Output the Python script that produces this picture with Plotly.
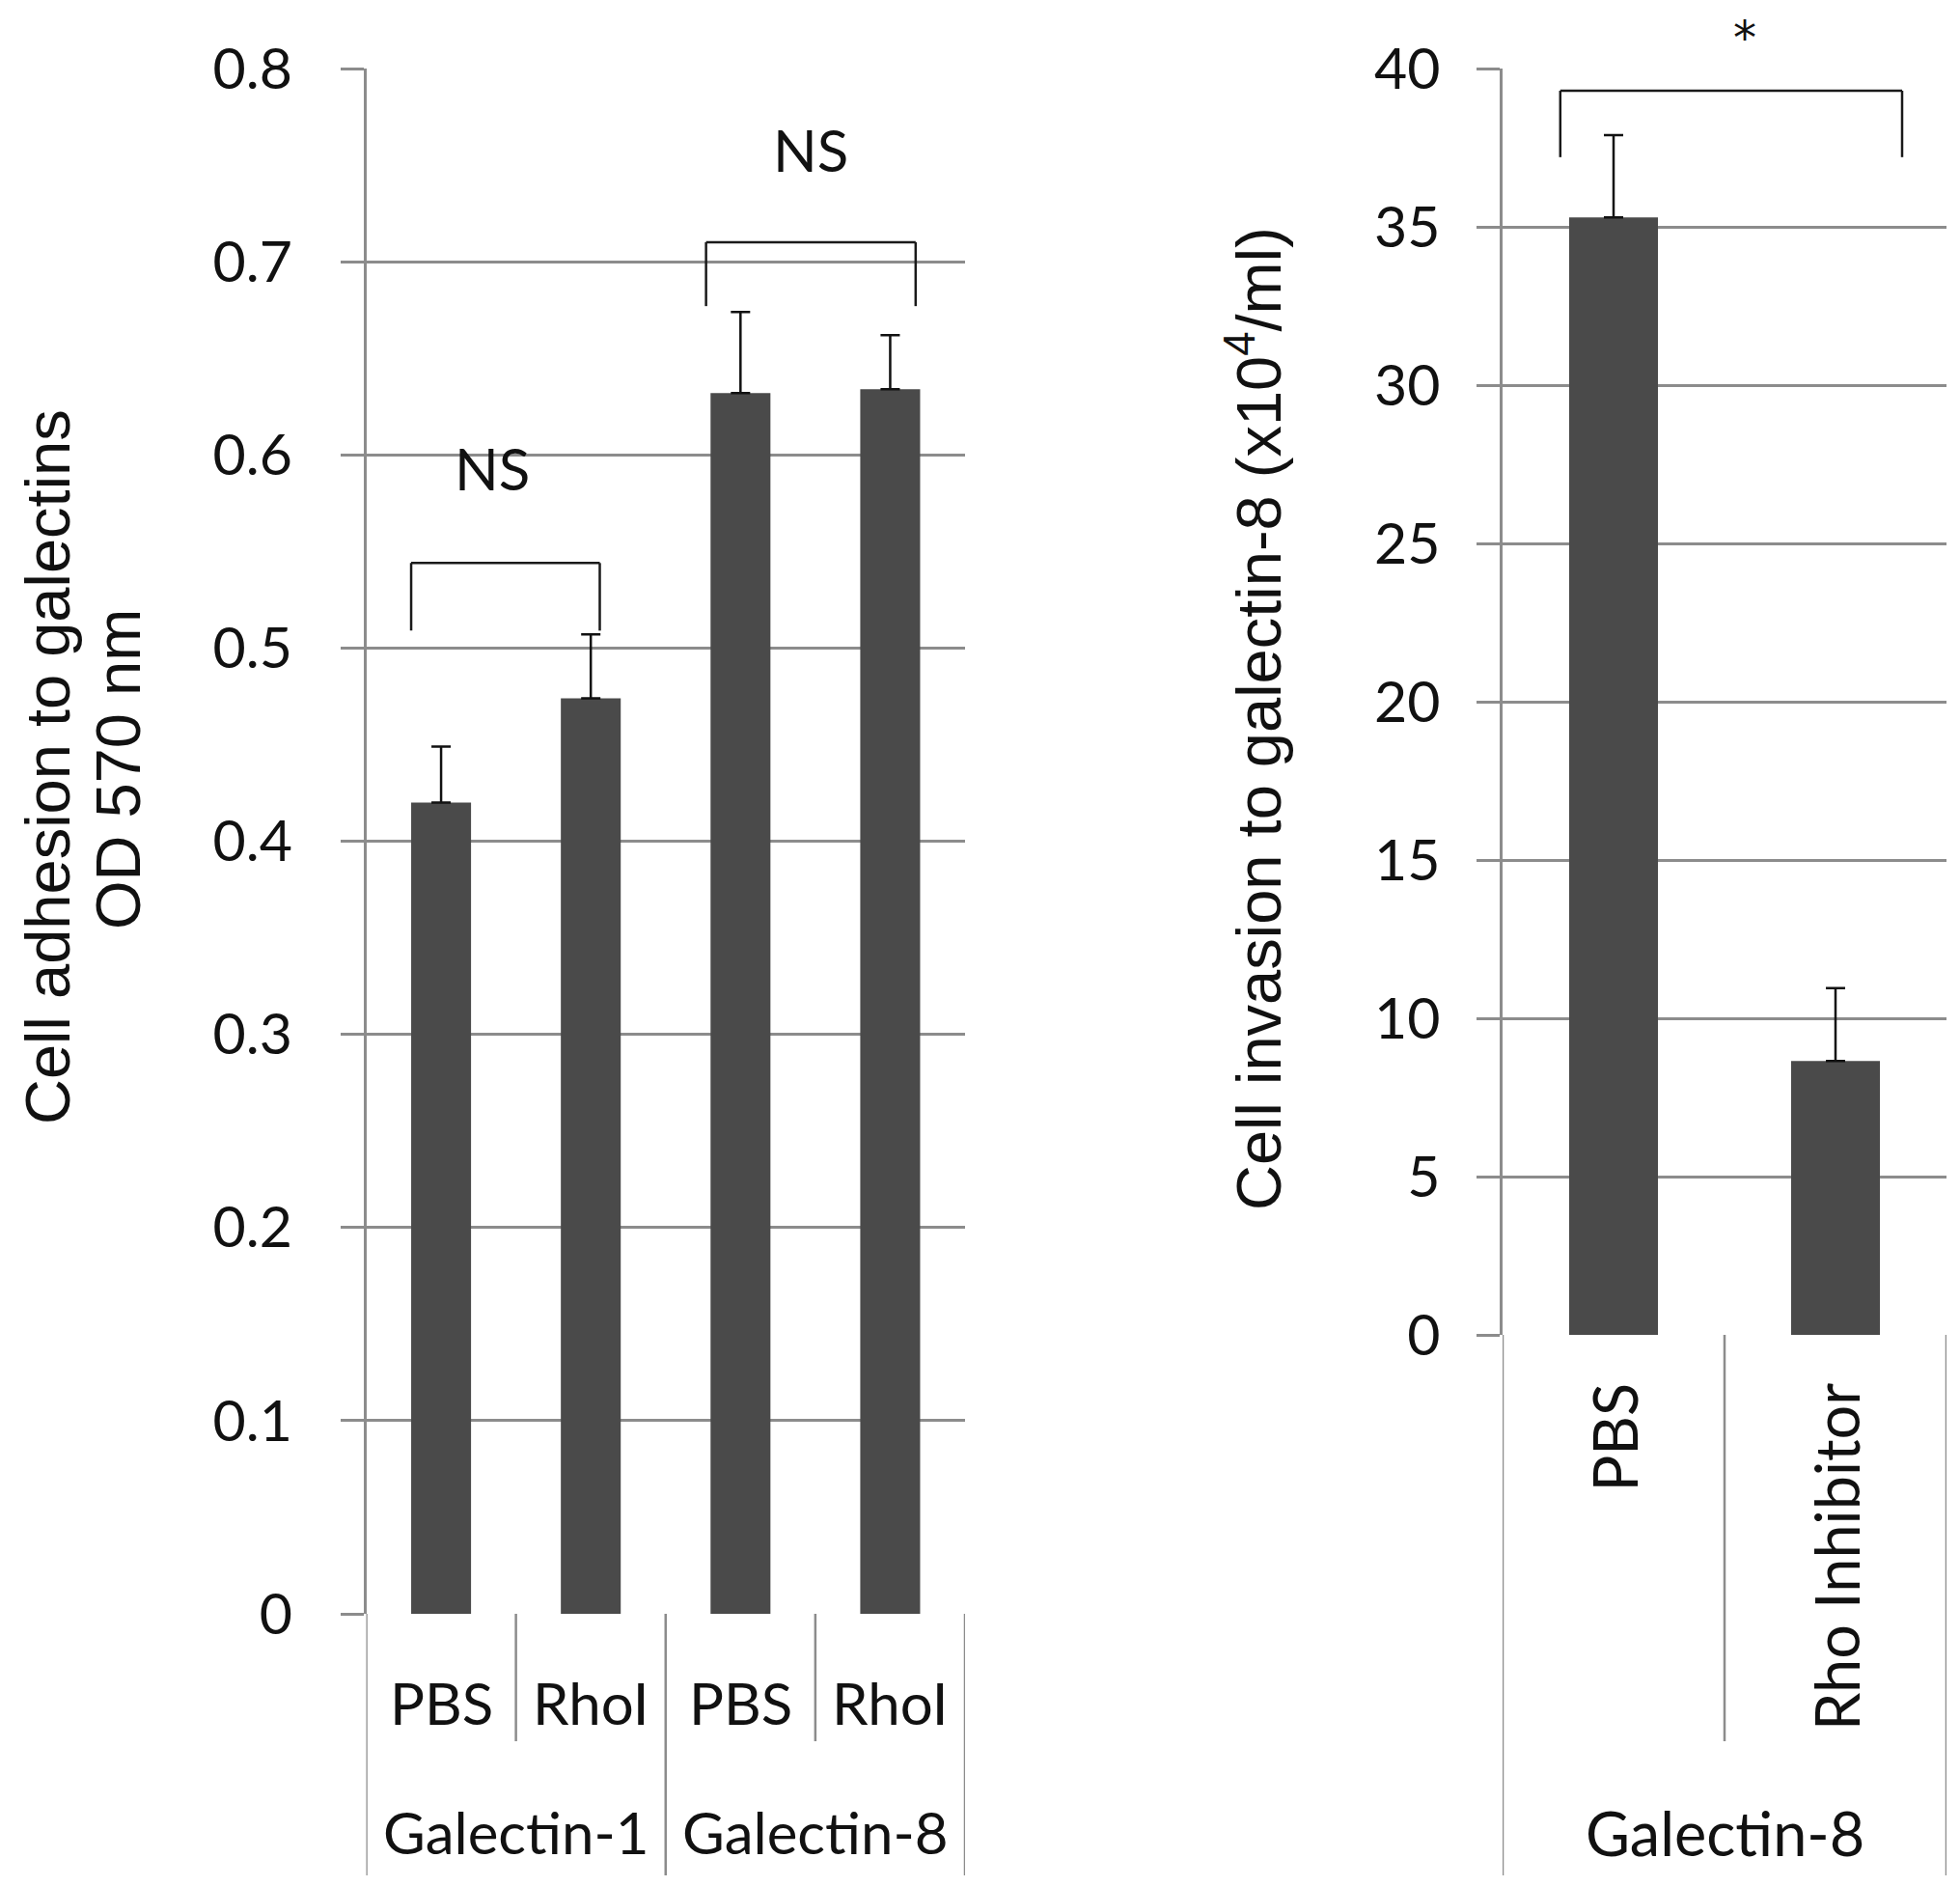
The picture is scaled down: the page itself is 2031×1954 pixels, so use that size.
import plotly.graph_objects as go

# ---------------- data ----------------
adh_groups = ["Galectin-1", "Galectin-8"]
adh_labels = ["PBS", "RhoI", "PBS", "RhoI"]
adh_values = [0.420, 0.474, 0.632, 0.634]
adh_errors = [0.029, 0.033, 0.042, 0.028]
adh_ticks = [0, 0.1, 0.2, 0.3, 0.4, 0.5, 0.6, 0.7, 0.8]

inv_group = "Galectin-8"
inv_labels = ["PBS", "Rho Inhibitor"]
inv_values = [35.3, 8.65]
inv_errors = [2.6, 2.3]
inv_ticks = [0, 5, 10, 15, 20, 25, 30, 35, 40]

# significance brackets: (x_left, x_right, y_top, y_leg, label, label_x, label_y)
adh_brackets = [(-0.2, 1.06, 0.544, 0.509, "NS", 0.34, 0.593),
                (1.77, 3.17, 0.710, 0.677, "NS", 2.47, 0.758)]
inv_brackets = [(-0.24, 1.30, 39.3, 37.2, "*", 0.59, 40.97)]

# ---------------- style ----------------
W, H = 2031, 1954
OFF = 8  # page body margin
BAR = "#4a4a4a"
GRID = "#8c8c8c"
TICKFONT = dict(family="Lato", size=59, color="#111111")
LABFONT = dict(family="Lato", size=60, color="#111111")
RLABFONT = dict(family="Lato", size=63, color="#111111")
STARFONT = dict(family="DejaVu Sans", size=48, color="#111111")
TITLEFONT = dict(family="Liberation Sans, Arial", size=65, color="#111111")

def py(y_px):
    return 1 - (y_px - OFF) / H

def px_(x_px):
    return (x_px - OFF) / W

L_dom = [px_(379.5), px_(1000)]
R_dom = [px_(1557), px_(2017)]
TOP = py(71)
L_BOT = py(1672)
R_BOT = py(1383)

fig = go.Figure()

fig.add_trace(go.Bar(
    x=list(range(len(adh_values))), y=adh_values,
    marker=dict(color=BAR, line=dict(width=0)),
    error_y=dict(type="data", array=adh_errors, arrayminus=[0] * len(adh_errors),
                 symmetric=False, color="#111111", thickness=2.5, width=10),
    xaxis="x", yaxis="y", showlegend=False))

fig.add_trace(go.Bar(
    x=list(range(len(inv_values))), y=inv_values,
    marker=dict(color=BAR, line=dict(width=0)),
    error_y=dict(type="data", array=inv_errors, arrayminus=[0] * len(inv_errors),
                 symmetric=False, color="#111111", thickness=2.5, width=10),
    xaxis="x2", yaxis="y2", showlegend=False))

common_y = dict(showgrid=True, gridcolor=GRID, gridwidth=2.5, showline=True,
                linecolor=GRID, linewidth=2.5, ticks="outside", ticklen=24,
                tickcolor=GRID, tickwidth=2.5, zeroline=False, tickfont=TICKFONT,
                automargin=False)
common_x = dict(showticklabels=False, showgrid=False, zeroline=False, showline=False,
                ticks="", automargin=False)

fig.update_layout(
    width=W, height=H, margin=dict(l=0, r=0, t=0, b=0, autoexpand=False),
    paper_bgcolor="white", plot_bgcolor="white", bargap=0.6,
    xaxis=dict(domain=L_dom, range=[-0.5, len(adh_values) - 0.5], anchor="y", **common_x),
    yaxis=dict(domain=[L_BOT, TOP], range=[0, 0.8], tickvals=adh_ticks,
               ticktext=[f"{v:g}" for v in adh_ticks], ticklabelstandoff=38,
               anchor="x", **common_y),
    xaxis2=dict(domain=R_dom, range=[-0.5, len(inv_values) - 0.5], anchor="y2", **common_x),
    yaxis2=dict(domain=[R_BOT, TOP], range=[0, 40], tickvals=inv_ticks,
                ticktext=[str(v) for v in inv_ticks], ticklabelstandoff=26,
                anchor="x2", **common_y),
)

shapes = []
annotations = []

# category box lines, left panel
n = len(adh_labels)
for i in range(n + 1):
    xb = i - 0.5
    outer = (i % 2 == 0)
    shapes.append(dict(type="line", xref="x", yref="paper", x0=xb, x1=xb,
                       y0=L_BOT, y1=py(1943) if outer else py(1804),
                       line=dict(color=GRID, width=2.5)))
for i, lab in enumerate(adh_labels):
    annotations.append(dict(text=lab, x=i, y=py(1764), xref="x", yref="paper",
                            showarrow=False, font=LABFONT, xanchor="center", yanchor="middle"))
for g, grp in enumerate(adh_groups):
    annotations.append(dict(text=grp, x=2 * g + 0.5, y=py(1898), xref="x", yref="paper",
                            showarrow=False, font=LABFONT, xanchor="center", yanchor="middle"))

# category box lines, right panel
m = len(inv_labels)
for i in range(m + 1):
    xb = i - 0.5
    outer = (i == 0 or i == m)
    shapes.append(dict(type="line", xref="x2", yref="paper", x0=xb, x1=xb,
                       y0=R_BOT, y1=py(1943) if outer else py(1804),
                       line=dict(color=GRID, width=2.5)))
for i, lab in enumerate(inv_labels):
    annotations.append(dict(text=lab, x=i, y=py(1431), xref="x2", yref="paper",
                            showarrow=False, font=RLABFONT, textangle=-90,
                            xanchor="center", yanchor="top"))
annotations.append(dict(text=inv_group, x=(m - 1) / 2, y=py(1898), xref="x2", yref="paper",
                        showarrow=False, font=RLABFONT, xanchor="center", yanchor="middle"))

# brackets
def add_brackets(specs, xr, yr, ymax, ybot, font):
    for x0, x1, yt, yl, lab, lx, ly in specs:
        for seg in [(x0, yl, x0, yt), (x0, yt, x1, yt), (x1, yt, x1, yl)]:
            shapes.append(dict(type="line", xref=xr, yref=yr, x0=seg[0], y0=seg[1],
                               x1=seg[2], y1=seg[3], line=dict(color="#1a1a1a", width=2.5)))
        # label placed in paper space so it is drawn even above the axis range
        yp = ybot + (ly / ymax) * (TOP - ybot)
        annotations.append(dict(text=lab, x=lx, y=yp, xref=xr, yref="paper", showarrow=False,
                                font=font, xanchor="center", yanchor="middle"))

add_brackets(adh_brackets, "x", "y", 0.8, L_BOT, LABFONT)
add_brackets(inv_brackets, "x2", "y2", 40, R_BOT, STARFONT)

# axis titles
annotations.append(dict(text="Cell adhesion to galectins", x=px_(49), y=py(795),
                        xref="paper", yref="paper", showarrow=False, textangle=-90,
                        font=TITLEFONT, xanchor="center", yanchor="middle"))
annotations.append(dict(text="OD 570 nm", x=px_(123), y=py(797),
                        xref="paper", yref="paper", showarrow=False, textangle=-90,
                        font=TITLEFONT, xanchor="center", yanchor="middle"))
annotations.append(dict(text="Cell invasion to galectin-8 (x10<sup>4</sup>/ml)", x=px_(1300), y=py(745),
                        xref="paper", yref="paper", showarrow=False, textangle=-90,
                        font=TITLEFONT, xanchor="center", yanchor="middle"))

fig.update_layout(shapes=shapes, annotations=annotations)
fig.write_html("out.html")
